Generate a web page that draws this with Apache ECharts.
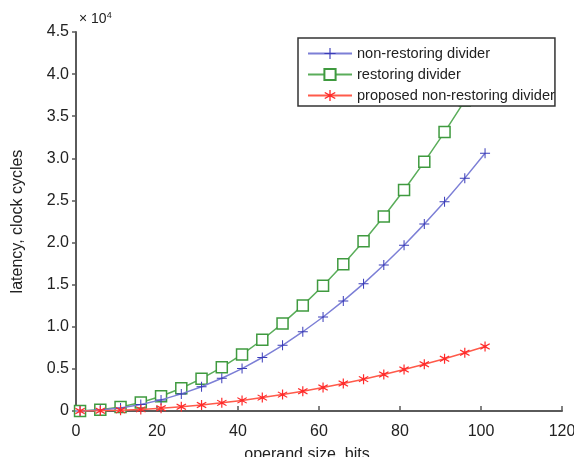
<!DOCTYPE html>
<html>
<head>
<meta charset="utf-8">
<script src="https://cdn.jsdelivr.net/npm/echarts@6/dist/echarts.min.js"></script>
<style>
  html, body { margin: 0; padding: 0; background: #fff; }
  #chart { width: 574px; height: 457px; }
</style>
</head>
<body>
<div id="chart"></div>
<script>
// operand sizes (bits)
const operandSizes = [1, 6, 11, 16, 21, 26, 31, 36, 41, 46, 51, 56, 61, 66, 71, 76, 81, 86, 91, 96, 101]

// latency in clock cycles
const nonRestoring = [3, 110, 360, 770, 1320, 2030, 2880, 3890, 5040, 6350, 7800, 9410, 11160, 13070, 15120, 17330, 19680, 22190, 24840, 27650, 30600]
const restoring = [4, 140, 480, 1020, 1760, 2700, 3840, 5180, 6720, 8460, 10400, 12540, 14880, 17420, 20160, 23100, 26240, 29580, 33120, 36860, 40800]
const proposed = [1, 30, 90, 190, 330, 510, 720, 970, 1260, 1590, 1950, 2350, 2790, 3270, 3780, 4330, 4920, 5550, 6210, 6910, 7650]

const xTicks = { min: 0, max: 120, interval: 20 }
const yTicks = { min: 0, max: 45000, interval: 5000 }

const pairs = (ys) => operandSizes.map((x, i) => [x, ys[i]])

const plusPath = "path://M9,0 L11,0 L11,9 L20,9 L20,11 L11,11 L11,20 L9,20 L9,11 L0,11 L0,9 L9,9 Z"
const starPath = "path://M9,0 L11,0 L11,7.6 L17.4,3.6 L18.4,5.4 L12,10 L18.4,14.6 L17.4,16.4 L11,12.4 L11,20 L9,20 L9,12.4 L2.6,16.4 L1.6,14.6 L8,10 L1.6,5.4 L2.6,3.6 L9,7.6 Z"

const chart = echarts.init(document.getElementById("chart"))

const axisColor = "#5a5a5a"
const textColor = "#222"
const font = "Liberation Sans, Arial, sans-serif"

const option = {
  animation: false,
  textStyle: { fontFamily: font },
  grid: { left: 76, right: 12, top: 32, bottom: 46, outerBoundsMode: "none" },
  legend: {
    orient: "vertical",
    left: 298,
    top: 38,
    z: 10,
    itemWidth: 44,
    itemHeight: 14,
    itemGap: 6,
    padding: [8, 0, 3, 9],
    backgroundColor: "#fff",
    borderColor: "#333",
    borderWidth: 1.5,
    borderRadius: 0,
    textStyle: { fontSize: 14.6, color: textColor },
    data: ["non-restoring divider", "restoring divider", "proposed non-restoring divider"],
  },
  xAxis: {
    type: "value",
    min: xTicks.min,
    max: xTicks.max,
    interval: xTicks.interval,
    name: "operand size, bits",
    nameLocation: "middle",
    nameGap: 36,
    nameTextStyle: { fontSize: 16, color: textColor, padding: [0, 24, 0, 0] },
    axisLine: { lineStyle: { color: axisColor, width: 2 } },
    axisTick: { inside: true, length: 5, lineStyle: { color: axisColor, width: 1.5 } },
    axisLabel: { fontSize: 16, color: textColor, margin: 13 },
    splitLine: { show: false },
  },
  yAxis: {
    type: "value",
    min: yTicks.min,
    max: yTicks.max,
    interval: yTicks.interval,
    name: "latency, clock cycles",
    nameLocation: "middle",
    nameGap: 50,
    nameTextStyle: { fontSize: 16, color: textColor },
    axisLine: { show: true, lineStyle: { color: axisColor, width: 2 } },
    axisTick: { show: true, length: 4, lineStyle: { color: axisColor, width: 1.5 } },
    axisLabel: {
      fontSize: 16,
      color: textColor,
      margin: 7,
      formatter: (v) => (v === 0 ? "0" : (v / 10000).toFixed(1)),
    },
    splitLine: { show: false },
  },
  graphic: [
    {
      type: "text",
      left: 79,
      top: 11,
      style: {
        text: "{a|× 10}{b|4}",
        rich: {
          a: { fontSize: 14, fontFamily: font, fill: textColor },
          b: { fontSize: 9, fontFamily: font, fill: textColor, verticalAlign: "top", padding: [0, 0, 7, 0] },
        },
      },
    },
  ],
  series: [
    {
      name: "non-restoring divider",
      type: "line",
      data: pairs(nonRestoring),
      symbol: plusPath,
      symbolSize: 10,
      lineStyle: { color: "#7c7fd6", width: 1.5 },
      itemStyle: { color: "#3a3cb8" },
      z: 3,
    },
    {
      name: "restoring divider",
      type: "line",
      data: pairs(restoring),
      symbol: "rect",
      symbolSize: 11,
      lineStyle: { color: "#5aad5a", width: 1.5 },
      itemStyle: { color: "#fff", borderColor: "#3f9a3f", borderWidth: 1.5 },
      z: 2,
    },
    {
      name: "proposed non-restoring divider",
      type: "line",
      data: pairs(proposed),
      symbol: starPath,
      symbolSize: 10,
      lineStyle: { color: "#ff5a4a", width: 1.5 },
      itemStyle: { color: "#ff2a2a" },
      z: 4,
    },
  ],
}

chart.setOption(option)
</script>
</body>
</html>
